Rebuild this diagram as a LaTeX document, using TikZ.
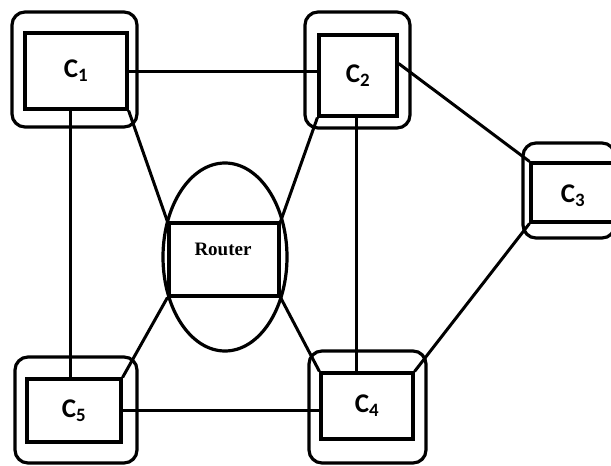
\documentclass[tikz,border=0pt]{standalone}
\usepackage{fontspec}
\setmainfont{Carlito}
\newfontfamily\routerfont{Liberation Serif}
\usetikzlibrary{shapes.geometric}
\begin{document}
\begin{tikzpicture}[x=1pt,y=-1pt,line width=3.2pt,
  inner/.style={draw,rectangle,inner sep=0pt,font=\fontsize{27}{30}\selectfont\bfseries},
  outer/.style={draw,rectangle,rounded corners=13pt,inner sep=0pt},
  link/.style={draw,line width=3pt}]
\useasboundingbox (0,0) rectangle (611,466);
% outer rounded boxes
\node[outer,minimum width=125pt,minimum height=115pt] (o1) at (74.5,69.5) {};
\node[outer,minimum width=105pt,minimum height=116pt] (o2) at (357.5,70) {};
\node[outer,minimum width=92pt,minimum height=95pt] (o3) at (569,190.5) {};
\node[outer,minimum width=117pt,minimum height=112pt] (o4) at (367.5,407) {};
\node[outer,minimum width=122pt,minimum height=106pt] (o5) at (76,410) {};
% inner boxes
\node[inner,minimum width=102pt,minimum height=76pt] (c1) at (76,71) {C\textsubscript{1}};
\node[inner,minimum width=78pt,minimum height=81pt] (c2) at (358,75.5) {C\textsubscript{2}};
\node[inner,minimum width=82pt,minimum height=59pt] (c3) at (572,192.5) {};
\node[font=\fontsize{27}{30}\selectfont\bfseries] (l3) at (573,196) {C\textsubscript{3}};
\node[inner,minimum width=92pt,minimum height=66pt] (c4) at (367,406) {C\textsubscript{4}};
\node[inner,minimum width=94pt,minimum height=63pt] (c5) at (74,410.5) {C\textsubscript{5}};
% router
\node[draw,ellipse,minimum width=124pt,minimum height=188pt,inner sep=0pt] (re) at (225,257) {};
\node[draw,rectangle,minimum width=110pt,minimum height=73pt,inner sep=0pt] (r) at (224,259.5) {};
\node[font=\routerfont\fontsize{19}{22}\selectfont\bfseries] (rl) at (223,249) {Router};
% links
\draw[link] (c1.east) -- (c1.east -| c2.west);
\draw[link] ([xshift=-6pt]c1.south) -- ([xshift=-6pt]c1.south |- c5.north);
\draw[link] ([xshift=-2pt]c2.south) -- ([xshift=-2pt]c2.south |- c4.north);
\draw[link] (c5.east) -- (c5.east -| c4.west);
\draw[link] ([yshift=12pt]c2.east) -- (c3.north west);
\draw[link] (c3.south west) -- (c4.north east);
\draw[link] (c1.south east) -- (r.north west);
\draw[link] (c2.south west) -- (r.north east);
\draw[link] (c5.north east) -- (r.south west);
\draw[link] (c4.north west) -- (r.south east);
\end{tikzpicture}
\end{document}
